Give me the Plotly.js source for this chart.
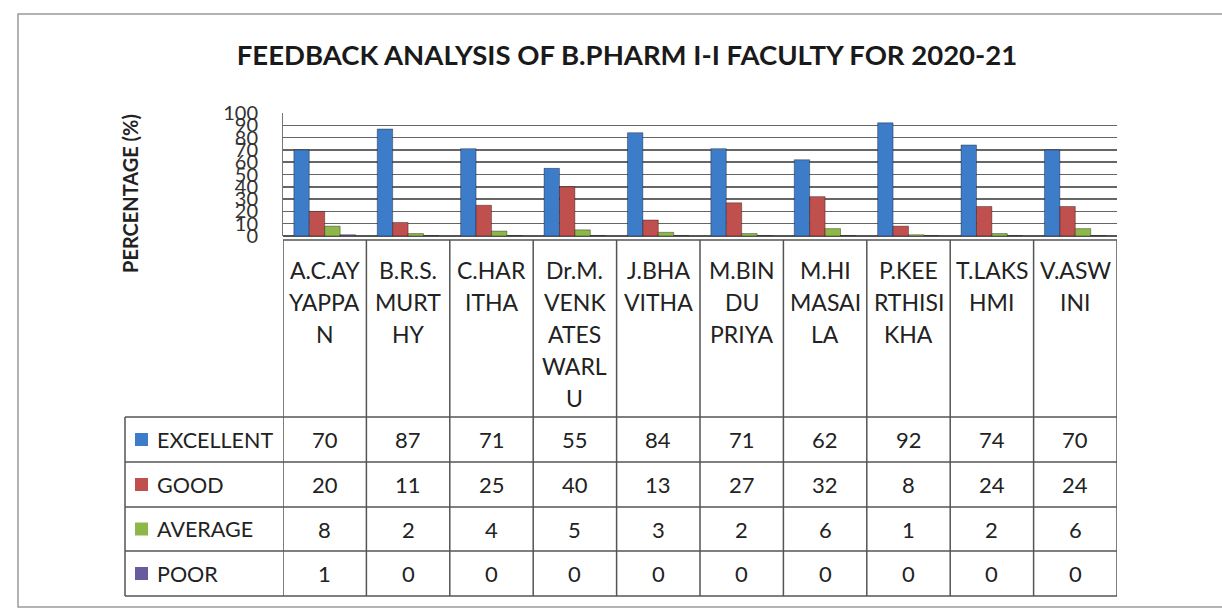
<!DOCTYPE html>
<html>
<head>
<meta charset="utf-8">
<script src="https://cdn.plot.ly/plotly-3.0.1.min.js"></script>
<style>html,body{margin:0;padding:0;background:#fff}#chart{width:1222px;height:612px}</style>
</head>
<body>
<div id="chart"></div>
<script>
// ---- data ----
const categories = ["A.C.AYYAPPAN","B.R.S.MURTHY","C.HARITHA","Dr.M.VENKATESWARLU","J.BHAVITHA","M.BINDU PRIYA","M.HIMASAILA","P.KEERTHISIKHA","T.LAKSHMI","V.ASWINI"];
const categoryLabels = [
  ["A.C.AY","YAPPA","N"],
  ["B.R.S.","MURT","HY"],
  ["C.HAR","ITHA"],
  ["Dr.M.","VENK","ATES","WARL","U"],
  ["J.BHA","VITHA"],
  ["M.BIN","DU","PRIYA"],
  ["M.HI","MASAI","LA"],
  ["P.KEE","RTHISI","KHA"],
  ["T.LAKS","HMI"],
  ["V.ASW","INI"]
];
const seriesNames = ["EXCELLENT","GOOD","AVERAGE","POOR"];
const excellent = [70, 87, 71, 55, 84, 71, 62, 92, 74, 70];
const good      = [20, 11, 25, 40, 13, 27, 32, 8, 24, 24];
const average   = [8, 2, 4, 5, 3, 2, 6, 1, 2, 6];
const poor      = [1, 0, 0, 0, 0, 0, 0, 0, 0, 0];
const seriesColors = ["#3d7cc9", "#c0504d", "#8db849", "#6a5a9e"];
const yTicks = [0,10,20,30,40,50,60,70,80,90,100];

// ---- geometry helpers (pixels -> paper) ----
const W = 1222, H = 612;
const px = v => v / W;
const py = v => (H - v) / H;
const FONT = "Lato, 'Open Sans', sans-serif";

const plotL = 283, plotR = 1117, plotTop = 113, plotBot = 236;
const tableTop = 240, catBot = 417;
const rowLines = [417, 462, 507, 551, 596];
const headerL = 125;

const seriesData = [excellent, good, average, poor];
const idx = categories.map((_, i) => i);

const traces = seriesData.map((vals, s) => ({
  type: "bar",
  name: seriesNames[s],
  x: idx,
  y: vals,
  marker: {color: seriesColors[s], line: {color: "rgba(0,0,0,0.35)", width: 1}},
  hoverinfo: "x+y+name",
  showlegend: false
}));

const shapes = [];
const annotations = [];

// outer border
shapes.push({type:"rect", xref:"paper", yref:"paper", x0:px(18), x1:px(1240), y0:py(607), y1:py(14),
  line:{color:"#9a9a9a", width:1.5}, fillcolor:"rgba(0,0,0,0)", layer:"below"});

// table vertical lines (column boundaries) in data x units
for (let i = 0; i <= categories.length; i++) {
  shapes.push({type:"line", xref:"x", yref:"paper", x0:i-0.5, x1:i-0.5, y0:py(tableTop), y1:py(596),
    line:{color:"#555", width:1.5}});
}
// row header left line
shapes.push({type:"line", xref:"paper", yref:"paper", x0:px(headerL), x1:px(headerL), y0:py(catBot), y1:py(596),
  line:{color:"#555", width:1.5}});
// top of category row
shapes.push({type:"line", xref:"paper", yref:"paper", x0:px(plotL), x1:px(plotR), y0:py(tableTop), y1:py(tableTop),
  line:{color:"#555", width:1.5}});
// row lines
rowLines.forEach(r => {
  shapes.push({type:"line", xref:"paper", yref:"paper", x0:px(headerL), x1:px(plotR), y0:py(r), y1:py(r),
    line:{color:"#555", width:1.5}});
});

// category labels (wrapped lines)
categoryLabels.forEach((lines, i) => {
  lines.forEach((t, k) => {
    annotations.push({xref:"x", yref:"paper", x:i, y:py(270 + 32*k), text:t, showarrow:false,
      xanchor:"center", yanchor:"middle", font:{family:FONT, size:23, color:"#222"}});
  });
});

// table values + row headers
seriesData.forEach((vals, s) => {
  const yc = (rowLines[s] + rowLines[s+1]) / 2;
  vals.forEach((v, i) => {
    annotations.push({xref:"x", yref:"paper", x:i, y:py(yc), text:String(v), showarrow:false,
      xanchor:"center", yanchor:"middle", font:{family:FONT, size:22, color:"#222"}});
  });
  annotations.push({xref:"paper", yref:"paper", x:px(155), y:py(yc), text:seriesNames[s], showarrow:false,
    xanchor:"left", yanchor:"middle", font:{family:FONT, size:21.5, color:"#222"}});
  shapes.push({type:"rect", xref:"paper", yref:"paper", x0:px(135), x1:px(148), y0:py(yc+6.5), y1:py(yc-6.5),
    line:{width:0}, fillcolor:seriesColors[s]});
});

// y axis title
annotations.push({xref:"paper", yref:"paper", x:px(130), y:py(194), text:"<b>PERCENTAGE (%)</b>", showarrow:false,
  textangle:-90, xanchor:"center", yanchor:"middle", font:{family:FONT, size:20, color:"#222"}});

const layout = {
  width: W, height: H,
  margin: {l:0, r:0, t:0, b:0},
  paper_bgcolor: "#fff", plot_bgcolor: "#fff",
  title: {text:"<b>FEEDBACK ANALYSIS OF B.PHARM I-I FACULTY FOR 2020-21</b>", x:px(627), xanchor:"center",
    y:py(55), yanchor:"middle", font:{family:FONT, size:27.5, color:"#1a1a1a"}},
  barmode: "group", bargap: 0.26, bargroupgap: 0,
  xaxis: {domain:[px(plotL), px(plotR)], range:[-0.5, categories.length-0.5], showticklabels:false,
    showgrid:false, zeroline:false, showline:false, ticks:"", fixedrange:true},
  yaxis: {domain:[py(plotBot), py(plotTop)], range:[0,100], tickmode:"array", tickvals:yTicks,
    ticktext:yTicks.map(String), showgrid:true, gridcolor:"#666", gridwidth:1.5,
    zeroline:true, zerolinecolor:"#555", zerolinewidth:1.5, showline:true, linecolor:"#777", linewidth:1,
    ticks:"outside", ticklen:20, tickcolor:"rgba(0,0,0,0)",
    tickfont:{family:FONT, size:20, color:"#333"}, fixedrange:true},
  shapes: shapes,
  annotations: annotations
};

Plotly.newPlot("chart", traces, layout, {displayModeBar:false, staticPlot:true});
</script>
</body>
</html>
